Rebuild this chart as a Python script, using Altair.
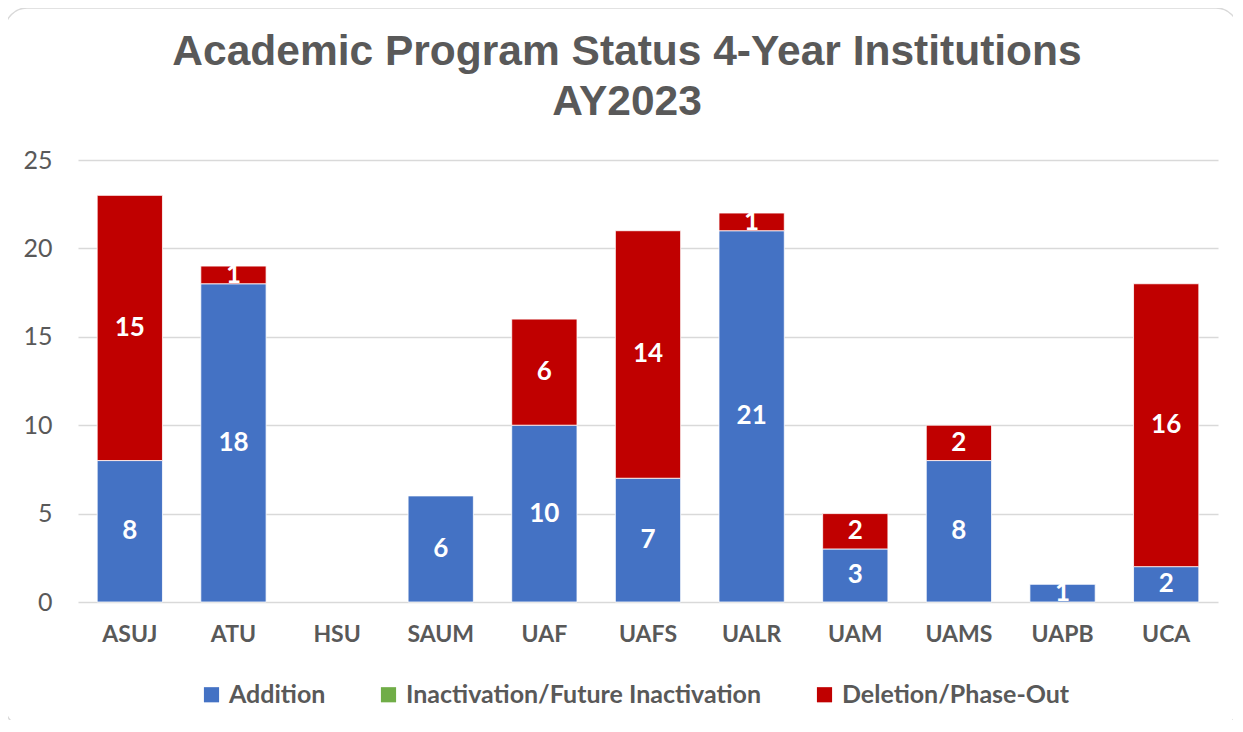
import altair as alt
import pandas as pd

institutions = ["ASUJ", "ATU", "HSU", "SAUM", "UAF", "UAFS", "UALR", "UAM", "UAMS", "UAPB", "UCA"]
addition = [8, 18, 0, 6, 10, 7, 21, 3, 8, 1, 2]
inactivation = [0, 0, 0, 0, 0, 0, 0, 0, 0, 0, 0]
deletion = [15, 1, 0, 0, 6, 14, 1, 2, 2, 0, 16]
series = ["Addition", "Inactivation/Future Inactivation", "Deletion/Phase-Out"]
colors = ["#4472C4", "#70AD47", "#C00000"]
y_ticks = [0, 5, 10, 15, 20, 25]

rows = []
for i, inst in enumerate(institutions):
    for k, (name, vals) in enumerate(zip(series, [addition, inactivation, deletion])):
        rows.append({"inst": inst, "series": name, "value": vals[i], "order": k})
df = pd.DataFrame(rows)

GRAY = "#595959"
LABEL_FONT = "Lato"

x_enc = alt.X("inst:N", sort=institutions, title=None,
              scale=alt.Scale(domain=institutions, paddingInner=0.37, paddingOuter=0.185),
              axis=alt.Axis(labelAngle=0, labelFont=LABEL_FONT, labelFontSize=23,
                            labelFontWeight="bold", labelColor=GRAY, ticks=False,
                            domain=False, labelPadding=21, grid=False))

bars = alt.Chart(df).transform_filter(alt.datum.value > 0).mark_bar(
    stroke="white", strokeWidth=0.8).encode(
    x=x_enc,
    y=alt.Y("value:Q", stack="zero", title=None,
            scale=alt.Scale(domain=[0, 25], nice=False),
            axis=alt.Axis(values=y_ticks, labelFont=LABEL_FONT, labelFontSize=25,
                          labelColor=GRAY, ticks=False, domain=False, labelPadding=26,
                          gridColor="#D9D9D9", gridWidth=1.5)),
    color=alt.Color("series:N", sort=series,
                    scale=alt.Scale(domain=series, range=colors),
                    legend=alt.Legend(title=None, orient="none", direction="horizontal",
                                      legendX=121, legendY=522,
                                      symbolType="square", symbolSize=230,
                                      symbolStrokeWidth=0, labelFont=LABEL_FONT,
                                      labelFontSize=25, labelFontWeight="bold",
                                      labelColor=GRAY, columnPadding=50, labelOffset=5,
                                      labelLimit=700)),
    order=alt.Order("order:Q", sort="ascending"),
)

labels = alt.Chart(df).transform_filter(
    alt.datum.value > 0
).transform_stack(
    stack="value", groupby=["inst"], as_=["y0", "y1"],
    sort=[alt.SortField("order", order="ascending")]
).transform_calculate(
    mid="(datum.y0 + datum.y1) / 2"
).mark_text(color="white", font=LABEL_FONT, fontSize=26, fontWeight="bold",
            baseline="middle", align="center").encode(
    x=alt.X("inst:N", sort=institutions),
    y=alt.Y("mid:Q"),
    text=alt.Text("value:Q"),
)

border = alt.Chart(pd.DataFrame({"a": [0]})).mark_rect(
    fillOpacity=0, stroke="#D9D9D9", strokeWidth=1.5, cornerRadius=22
).encode(
    x=alt.value(-73), x2=alt.value(1160), y=alt.value(-152), y2=alt.value(568)
)

chart = alt.layer(border, bars, labels).properties(
    width=1140, height=442,
    title=alt.TitleParams(
        text=["Academic Program Status 4-Year Institutions", "AY2023"],
        font="Liberation Sans", fontSize=42.5, fontWeight="bold", color=GRAY,
        anchor="middle", dx=-21, dy=146, lineHeight=50, offset=30),
    autosize=alt.AutoSizeParams(type="none"),
    padding={"left": 70, "top": 152, "right": 15, "bottom": 118},
).configure_view(stroke=None)

chart.save("out.html", embed_options={"renderer": "svg", "actions": False})
